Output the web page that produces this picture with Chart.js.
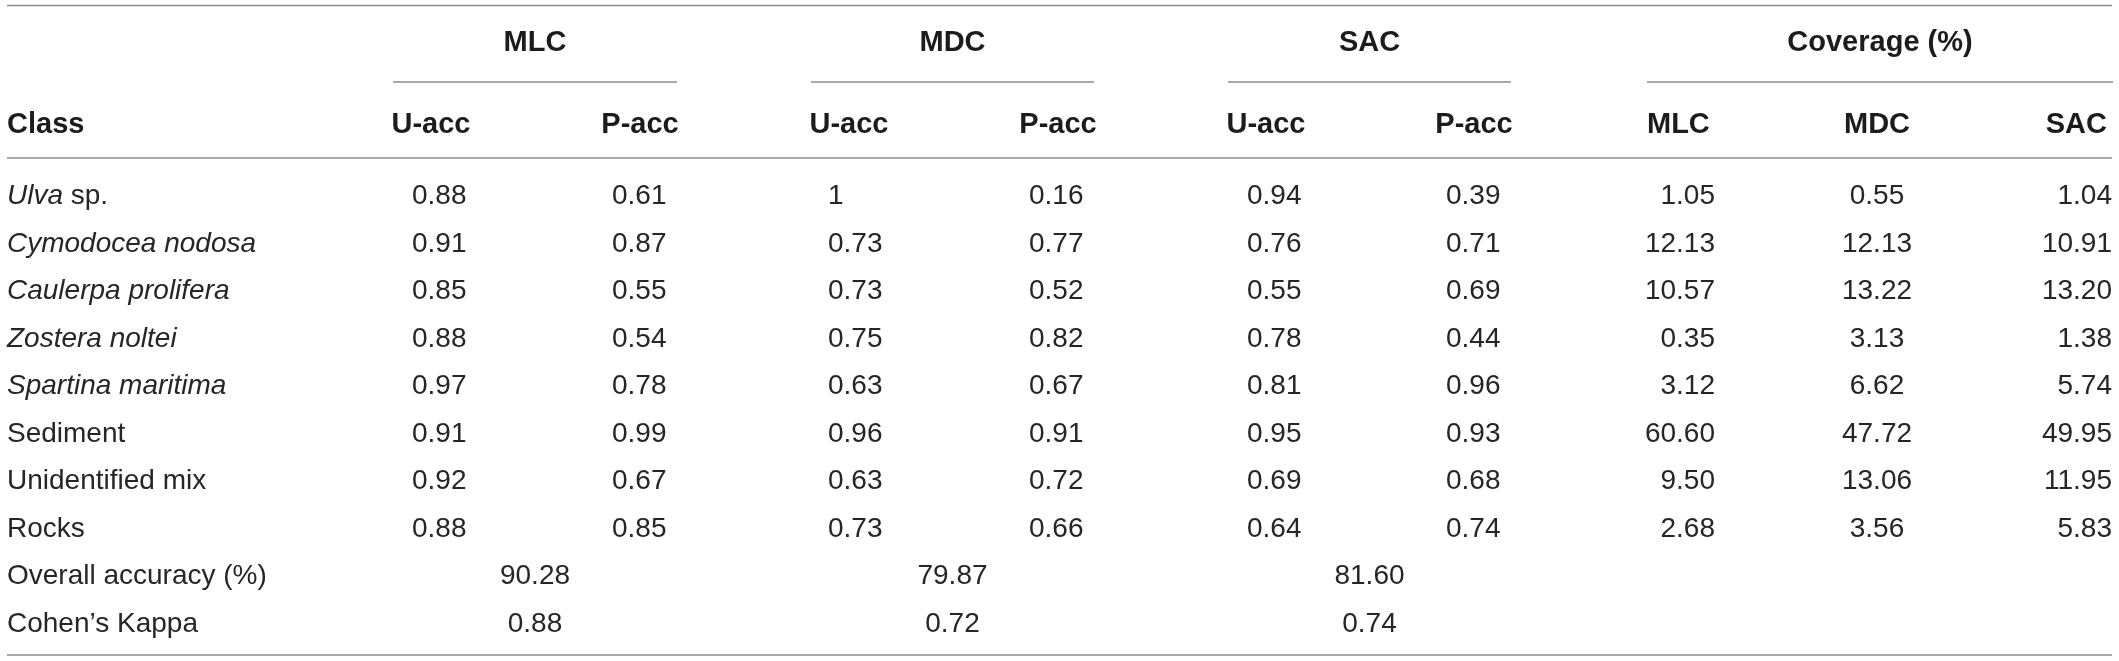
<!DOCTYPE html>
<html>
<head>
<meta charset="utf-8">
<title>Classification accuracy</title>
<script src="https://cdn.jsdelivr.net/npm/chart.js@4/dist/chart.umd.min.js"></script>
<style>
  html, body { margin: 0; padding: 0; background: #fff; }
  #wrap { width: 2119px; height: 661px; position: relative; }
</style>
</head>
<body>
<div id="wrap"><canvas id="table-chart"></canvas></div>
<script>
// row categories
const classes = ["Ulva sp.", "Cymodocea nodosa", "Caulerpa prolifera", "Zostera noltei",
    "Spartina maritima", "Sediment", "Unidentified mix", "Rocks"];
const italicPart = ["Ulva", "Cymodocea nodosa", "Caulerpa prolifera", "Zostera noltei",
    "Spartina maritima", "", "", ""];
const summaryRows = ["Overall accuracy (%)", "Cohen\u2019s Kappa"];

// column headers
const methods = ["MLC", "MDC", "SAC"];
const coverageTitle = "Coverage (%)";
const accHeaders = ["U-acc", "P-acc"];

// values
const mlcUser = [0.88, 0.91, 0.85, 0.88, 0.97, 0.91, 0.92, 0.88];
const mlcProd = [0.61, 0.87, 0.55, 0.54, 0.78, 0.99, 0.67, 0.85];
const mdcUser = [1, 0.73, 0.73, 0.75, 0.63, 0.96, 0.63, 0.73];
const mdcProd = [0.16, 0.77, 0.52, 0.82, 0.67, 0.91, 0.72, 0.66];
const sacUser = [0.94, 0.76, 0.55, 0.78, 0.81, 0.95, 0.69, 0.64];
const sacProd = [0.39, 0.71, 0.69, 0.44, 0.96, 0.93, 0.68, 0.74];
const coverMlc = [1.05, 12.13, 10.57, 0.35, 3.12, 60.60, 9.50, 2.68];
const coverMdc = [0.55, 12.13, 13.22, 3.13, 6.62, 47.72, 13.06, 3.56];
const coverSac = [1.04, 10.91, 13.20, 1.38, 5.74, 49.95, 11.95, 5.83];
const overallAcc = [90.28, 79.87, 81.60];
const kappa = [0.88, 0.72, 0.74];

// layout (x in scale units = px across the page)
const W = 2119;
const LEFT = 7, RIGHT = 2112;
const valueX = [412, 612, 828, 1029, 1247, 1446, 1715, 1877, 2112];
const valueAlign = ["left", "left", "left", "left", "left", "left", "right", "center", "right"];
const subHeadX = [431, 640, 849, 1058, 1266, 1474, 1647, 1877, 2107];
const subHeadAlign = ["center", "center", "center", "center", "center", "center", "left", "center", "right"];
const groupSpans = [[393, 677], [811, 1094], [1228, 1511], [1647, 2113]];

const BODY_FONT = "28px 'Liberation Sans', Arial, sans-serif";
const HEAD_FONT = "bold 29px 'Liberation Sans', Arial, sans-serif";
const TEXT = "#262626";
const RULE = "#8c8c8c";

const rowLabels = classes.concat(summaryRows);

function fmt(v) {
    return Number.isInteger(v) ? String(v) : v.toFixed(2);
}

const valueCols = [mlcUser, mlcProd, mdcUser, mdcProd, sacUser, sacProd, coverMlc, coverMdc, coverSac];

const datasets = valueCols.map((col, c) => ({
    data: col.map((v, i) => ({ x: valueX[c], y: classes[i] })),
    texts: col.map(fmt),
    align: valueAlign[c],
}));

[overallAcc, kappa].forEach((vals, r) => {
    datasets.push({
        data: vals.map((v, g) => ({ x: (groupSpans[g][0] + groupSpans[g][1]) / 2, y: summaryRows[r] })),
        texts: vals.map(fmt),
        align: "center",
    });
});

function hline(ctx, x1, x2, y) {
    ctx.beginPath();
    ctx.moveTo(x1, y);
    ctx.lineTo(x2, y);
    ctx.stroke();
}

const tablePlugin = {
    id: "tableText",
    afterDatasetsDraw(chart) {
        const ctx = chart.ctx;
        const yScale = chart.scales.y;
        ctx.save();
        ctx.fillStyle = TEXT;
        ctx.textBaseline = "alphabetic";

        // cell values
        ctx.font = BODY_FONT;
        chart.data.datasets.forEach((ds, d) => {
            const meta = chart.getDatasetMeta(d);
            ctx.textAlign = ds.align;
            meta.data.forEach((pt, i) => ctx.fillText(ds.texts[i], pt.x, pt.y + 10));
        });

        // row labels
        ctx.textAlign = "left";
        rowLabels.forEach((label, i) => {
            const y = yScale.getPixelForValue(i) + 10;
            const it = italicPart[i] || "";
            let x = LEFT;
            if (it) {
                ctx.font = "italic " + BODY_FONT;
                ctx.fillText(it, x, y);
                x += ctx.measureText(it).width;
            }
            ctx.font = BODY_FONT;
            ctx.fillText(label.slice(it.length), x, y);
        });

        // headers
        ctx.font = HEAD_FONT;
        ctx.fillStyle = "#1c1c1c";
        ctx.textAlign = "center";
        methods.concat([coverageTitle]).forEach((m, g) => {
            ctx.fillText(m, (groupSpans[g][0] + groupSpans[g][1]) / 2, 51);
        });
        ctx.textAlign = "left";
        ctx.fillText("Class", LEFT, 133);
        const subs = [];
        methods.forEach(() => subs.push(...accHeaders));
        subs.push(...methods);
        subs.forEach((s, c) => {
            ctx.textAlign = subHeadAlign[c];
            ctx.fillText(s, subHeadX[c], 133);
        });

        // rules
        ctx.strokeStyle = RULE;
        ctx.lineWidth = 1.5;
        hline(ctx, LEFT, RIGHT, 5.5);
        groupSpans.forEach(s => hline(ctx, s[0], s[1], 82));
        hline(ctx, LEFT, RIGHT, 158);
        hline(ctx, LEFT, RIGHT, 655);
        ctx.restore();
    },
};

new Chart(document.getElementById("table-chart"), {
    type: "scatter",
    data: { datasets },
    options: {
        responsive: true,
        maintainAspectRatio: false,
        animation: false,
        layout: { padding: { top: 170.25, bottom: 15.75, left: 0, right: 0 } },
        elements: { point: { radius: 0, hoverRadius: 0 } },
        plugins: { legend: { display: false }, tooltip: { enabled: false } },
        scales: {
            x: { type: "linear", min: 0, max: W, display: false },
            y: { type: "category", labels: rowLabels, offset: true, display: false },
        },
    },
    plugins: [tablePlugin],
});
</script>
</body>
</html>
